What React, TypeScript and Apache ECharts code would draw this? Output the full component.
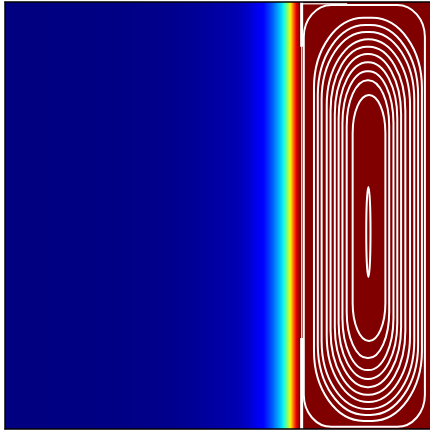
import { useEffect, useRef } from 'react';
import * as echarts from 'echarts';

// Cross-section of the scalar field along x (it does not vary with y): position and value in [0, 1].
const fieldX = [
  0, 0.1285, 0.2687, 0.3855, 0.4556, 0.5023, 0.5491, 0.5724, 0.5958, 0.6075, 0.6192, 0.6285,
  0.6355, 0.6425, 0.6495, 0.6565, 0.6612, 0.6659, 0.6694, 0.6729, 0.6776, 0.6822, 0.6857,
  0.6893, 0.6939, 1,
];
const fieldValue = [
  0, 0.002, 0.005, 0.012, 0.022, 0.032, 0.045, 0.065, 0.1, 0.125, 0.17, 0.21, 0.25, 0.29, 0.33,
  0.38, 0.46, 0.54, 0.6, 0.67, 0.775, 0.86, 0.914, 0.96, 1, 1,
];

// Closed streamlines of the convection cell, outermost first.
const loopLeft = [0.703, 0.727, 0.736, 0.745, 0.757, 0.766, 0.776, 0.785, 0.794, 0.804, 0.818, 0.85];
const loopRight = [0.988, 0.981, 0.972, 0.963, 0.953, 0.942, 0.932, 0.923, 0.914, 0.904, 0.895, 0.86];
const loopTop = [0.993, 0.963, 0.946, 0.93, 0.913, 0.895, 0.878, 0.859, 0.838, 0.817, 0.782, 0.567];
const loopBottom = [0.005, 0.019, 0.033, 0.047, 0.063, 0.08, 0.098, 0.117, 0.138, 0.166, 0.206, 0.356];
// Extent of each streamline's bend at its corners (horizontal and vertical).
const loopBendX = [0.065, 0.117, 0.112, 0.105, 0.098, 0.086, 0.077, 0.068, 0.058, 0.049, 0.039, 0.005];
const loopBendY = [0.075, 0.164, 0.164, 0.159, 0.155, 0.15, 0.141, 0.131, 0.122, 0.108, 0.089, 0.105];

// Open streamlines running along the melt front and the top wall.
const frontLine = [[0.698, 0], [0.698, 1]];
const frontTop = [[0.698, 0.895], [0.698, 1]];
const frontBottom = [[0.698, 0], [0.698, 0.213]];
const topWallLine = [[0.698, 0.996], [0.805, 0.996]];

// Jet colormap breakpoints per channel: [position, intensity].
const JET_R = [[0, 0], [0.35, 0], [0.66, 1], [0.89, 1], [1, 0.5]];
const JET_G = [[0, 0], [0.125, 0], [0.375, 1], [0.64, 1], [0.91, 0], [1, 0]];
const JET_B = [[0, 0.5], [0.11, 1], [0.34, 1], [0.65, 0], [1, 0]];

function channel(stops: number[][], v: number): number {
  const t = Math.min(1, Math.max(0, v));
  for (let i = 1; i < stops.length; i++) {
    const [p0, c0] = stops[i - 1];
    const [p1, c1] = stops[i];
    if (t <= p1) {
      const f = p1 === p0 ? 0 : (t - p0) / (p1 - p0);
      return c0 + (c1 - c0) * f;
    }
  }
  return stops[stops.length - 1][1];
}

function jet(v: number): string {
  const r = Math.round(255 * channel(JET_R, v));
  const g = Math.round(255 * channel(JET_G, v));
  const b = Math.round(255 * channel(JET_B, v));
  return `rgb(${r},${g},${b})`;
}

function plainAxis(position: string, z: number) {
  return {
    type: 'value',
    min: 0,
    max: 1,
    position,
    z,
    axisLine: { show: true, onZero: false, lineStyle: { color: '#000', width: 1.5 } },
    axisTick: { show: false },
    axisLabel: { show: false },
    splitLine: { show: false },
  };
}

function whiteLine(data: number[][], width: number, opacity = 1) {
  return {
    type: 'line',
    data,
    symbol: 'none',
    silent: true,
    z: 4,
    lineStyle: { color: '#fff', width, opacity },
  };
}

export default function App() {
  const ref = useRef<HTMLDivElement>(null);

  useEffect(() => {
    document.body.style.margin = '0';
    const chart = echarts.init(ref.current!, null, { renderer: 'svg' });

    const x0 = fieldX[0];
    const x1 = fieldX[fieldX.length - 1];
    // One band spanning the field; its colour stops sit at the sampled positions.
    const fieldStops = fieldX.map((x, i) => ({ offset: (x - x0) / (x1 - x0), color: jet(fieldValue[i]) }));
    const loops = loopLeft.map((l, i) => [l, loopRight[i], loopBottom[i], loopTop[i], loopBendX[i], loopBendY[i]]);

    chart.setOption({
      animation: false,
      grid: { left: 5, top: 2, width: 428, height: 427, show: false },
      xAxis: [plainAxis('bottom', 10), plainAxis('top', 10)],
      yAxis: [plainAxis('left', 10)],
      series: [
        {
          type: 'custom',
          silent: true,
          z: 1,
          data: [[x0, x1, 0, 1]],
          renderItem: (_p: any, api: any) => {
            const a = api.coord([api.value(0), api.value(3)]);
            const b = api.coord([api.value(1), api.value(2)]);
            return {
              type: 'rect',
              shape: { x: a[0], y: a[1], width: b[0] - a[0], height: b[1] - a[1] },
              style: { fill: new echarts.graphic.LinearGradient(0, 0, 1, 0, fieldStops) },
            };
          },
        },
        {
          type: 'custom',
          silent: true,
          z: 3,
          data: loops,
          renderItem: (_p: any, api: any) => {
            const tl = api.coord([api.value(0), api.value(3)]);
            const br = api.coord([api.value(1), api.value(2)]);
            const size = api.size([api.value(4), api.value(5)]);
            const L = tl[0], T = tl[1], R = br[0], B = br[1];
            const rx = Math.min(size[0], (R - L) / 2);
            const ry = Math.min(size[1], (B - T) / 2);
            const d = [
              `M ${L + rx} ${T}`,
              `L ${R - rx} ${T}`,
              `A ${rx} ${ry} 0 0 1 ${R} ${T + ry}`,
              `L ${R} ${B - ry}`,
              `A ${rx} ${ry} 0 0 1 ${R - rx} ${B}`,
              `L ${L + rx} ${B}`,
              `A ${rx} ${ry} 0 0 1 ${L} ${B - ry}`,
              `L ${L} ${T + ry}`,
              `A ${rx} ${ry} 0 0 1 ${L + rx} ${T}`,
              'Z',
            ].join(' ');
            return {
              type: 'path',
              shape: { pathData: d },
              style: { fill: 'none', stroke: '#fff', lineWidth: 2 },
            };
          },
        },
        whiteLine(frontLine, 1.2, 0.85),
        whiteLine(frontTop, 3),
        whiteLine(frontBottom, 3),
        whiteLine(topWallLine, 1.5, 0.8),
      ],
    });

    return () => chart.dispose();
  }, []);

  return <div ref={ref} style={{ position: 'fixed', left: 0, top: 0, width: 430, height: 431 }} />;
}
